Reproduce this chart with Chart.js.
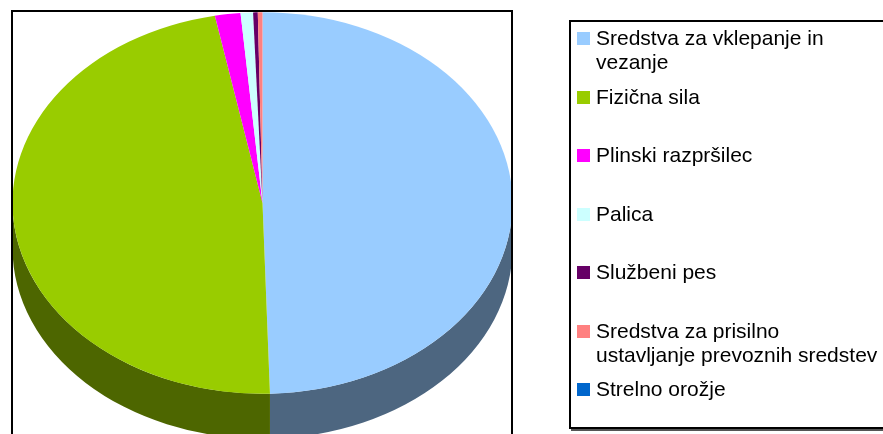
<!DOCTYPE html>
<html>
<head>
<meta charset="utf-8">
<script src="https://cdn.jsdelivr.net/npm/chart.js@4"></script>
<style>
  html, body { margin: 0; padding: 0; background: #fff; overflow: hidden; }
  #wrap { position: relative; width: 883px; height: 434px; overflow: hidden; }
  #c { position: absolute; left: 0; top: 0; }
  #plotBox { position: absolute; left: 11px; top: 10px; width: 502px; height: 450px;
             box-sizing: border-box; border: 2px solid #000; pointer-events: none; }
  #legendBox { position: absolute; left: 569px; top: 20px; width: 330px; height: 409px;
               box-sizing: border-box; border: 2px solid #000; box-shadow: 2px 2px 0 #555; background: #fff; }
  .item { position: absolute; left: 577px; font-family: "Liberation Sans", Arial, sans-serif;
          font-size: 21px; line-height: 24px; color: #000; }
  .item .sw { position: absolute; left: 0; top: 6px; width: 13px; height: 13px; }
  .item .tx { margin-left: 19px; width: 285px; }
</style>
</head>
<body>
<div id="wrap">
  <div id="legendBox"></div>
  <canvas id="c" width="883" height="434"></canvas>
  <div id="plotBox"></div>
</div>
<script>
// podatki (delež v %)
const labels = [
  'Sredstva za vklepanje in vezanje',
  'Fizična sila',
  'Plinski razpršilec',
  'Palica',
  'Službeni pes',
  'Sredstva za prisilno ustavljanje prevoznih sredstev',
  'Strelno orožje'
];
const values = [49.5, 47.4, 1.65, 0.8, 0.3, 0.3, 0];
const colors = ['#99CCFF', '#99CC00', '#FF00FF', '#CCFFFF', '#660066', '#FF8080', '#0066CC'];

const TILT = 0.763;   // vertical squash of the pie top
const DEPTH = 45;     // thickness of the pie side

function shade(hex, f) {
  const n = parseInt(hex.slice(1), 16);
  const r = Math.round(((n >> 16) & 255) * f);
  const g = Math.round(((n >> 8) & 255) * f);
  const b = Math.round((n & 255) * f);
  return 'rgb(' + r + ',' + g + ',' + b + ')';
}
const sideColors = colors.map(c => shade(c, 0.5));

// fake 3d: draw the front side first, then squash the top face
const pie3d = {
  id: 'pie3d',
  beforeDatasetsDraw(chart) {
    const ctx = chart.ctx;
    const arcs = chart.getDatasetMeta(0).data;
    const cx = arcs[0].x, cy = arcs[0].y;
    const rx = arcs[0].outerRadius, ry = rx * TILT;
    ctx.save();
    arcs.forEach((arc, i) => {
      const s = arc.startAngle, e = arc.endAngle;
      for (const off of [-2 * Math.PI, 0, 2 * Math.PI]) {
        const a = Math.max(s, off), b = Math.min(e, off + Math.PI);
        if (b <= a) continue;
        ctx.beginPath();
        ctx.ellipse(cx, cy, rx, ry, 0, a, b, false);
        ctx.ellipse(cx, cy + DEPTH, rx, ry, 0, b, a, true);
        ctx.closePath();
        ctx.fillStyle = sideColors[i];
        ctx.fill();
      }
    });
    ctx.restore();
    ctx.save();
    ctx.translate(0, cy);
    ctx.scale(1, TILT);
    ctx.translate(0, -cy);
  },
  afterDatasetsDraw(chart) {
    chart.ctx.restore();
  }
};

new Chart(document.getElementById('c'), {
  type: 'pie',
  data: {
    labels: labels,
    datasets: [{
      data: values,
      backgroundColor: colors,
      borderWidth: 0,
      radius: 250,
      clip: false
    }]
  },
  options: {
    responsive: false,
    animation: false,
    events: [],
    layout: { padding: { left: 12, right: 370, top: 12, bottom: 40 } },
    plugins: {
      legend: { display: false },
      tooltip: { enabled: false }
    }
  },
  plugins: [pie3d]
});

// legenda
const wrap = document.getElementById('wrap');
labels.forEach((lab, i) => {
  const it = document.createElement('div');
  it.className = 'item';
  it.style.top = (26 + i * 58.5) + 'px';
  const sw = document.createElement('span');
  sw.className = 'sw';
  sw.style.background = colors[i];
  const tx = document.createElement('div');
  tx.className = 'tx';
  tx.textContent = lab;
  it.appendChild(sw);
  it.appendChild(tx);
  wrap.appendChild(it);
});
</script>
</body>
</html>
